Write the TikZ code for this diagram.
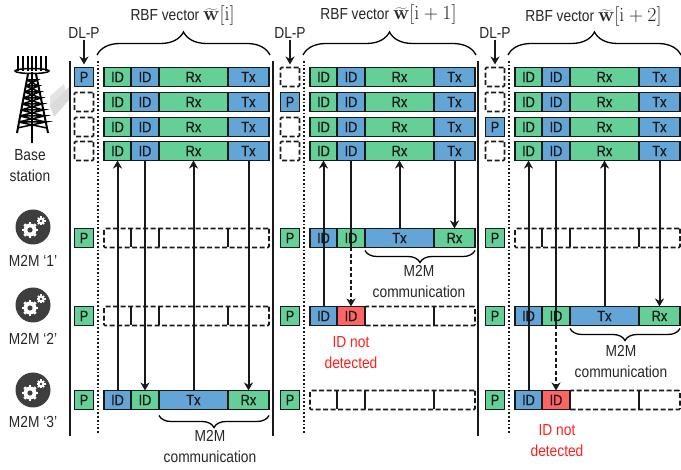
\documentclass[tikz,border=0pt]{standalone}
\usepackage[no-math]{fontspec}
\setmainfont[FakeStretch=0.86]{Liberation Sans}
\newfontfamily\cellfont[FakeStretch=0.85,FakeBold=0.5]{Liberation Sans}
\usepackage{tikz}
\usetikzlibrary{arrows.meta,calc,decorations.pathreplacing}
\definecolor{slotBlue}{HTML}{64A5D8}
\definecolor{slotGreen}{HTML}{64CF96}
\definecolor{slotRed}{HTML}{FF6464}
\definecolor{iconGrey}{HTML}{3E3E3E}
\definecolor{missRed}{HTML}{FF2020}
\tikzset{
  diagram text/.style={font=\fontsize{16}{21}\selectfont,text=black!85,align=center,inner sep=1pt},
  slot cell/.style={draw=black!90,line width=1.8pt,anchor=west,minimum height=19pt,inner sep=0pt,outer sep=0pt,
    font=\cellfont\fontsize{15}{15}\selectfont,text=black!90},
  blank slot/.style={draw=black!90,line width=1.6pt,dash pattern=on 5pt off 2.5pt,rounded corners=1pt,anchor=west,
    minimum height=19pt,inner sep=0pt,outer sep=0pt},
  slot divider/.style={line width=1.7pt,draw=black!90},
  pilot box/.style={slot cell,anchor=center,minimum width=19pt,minimum height=19pt},
  pilot blank/.style={blank slot,anchor=center,minimum width=19pt},
  slot link/.style={-{Stealth[length=8pt,width=9pt,inset=2.5pt]},line width=2pt,draw=black!90},
  slot plain/.style={line width=2pt,draw=black!90},
  slot dashed/.style={slot link,dash pattern=on 4pt off 2.5pt},
  big brace/.style={line width=1.3pt,decorate,decoration={brace,amplitude=23pt,aspect=0.5}},
  small brace/.style={line width=1.3pt,decorate,decoration={brace,mirror,amplitude=12pt}},
  frame line/.style={line width=1.8pt,draw=black!90},
  frame dots/.style={line width=1.7pt,dotted,draw=black!90},
  gear icon/.style={circle,fill=iconGrey,minimum size=35pt,inner sep=0pt},
  pics/cog/.style={code={
    \foreach \ang in {0,45,...,315}{\draw[white,line width=#1*0.42pt] (0,0) -- (\ang:#1*1.25pt);}
    \fill[white] (0,0) circle (#1*1pt);
    \fill[iconGrey] (0,0) circle (#1*0.4pt);
  }}
}
\newcommand{\slotcell}[6]{\node[slot cell,fill=#5,minimum width=#3pt] (#1) at (#2,#4) {#6};}
\newcommand{\stationrow}[3]{
  \slotcell{#1a}{#2}{27}{#3}{slotGreen}{ID}
  \slotcell{#1b}{#2+27}{28}{#3}{slotBlue}{ID}
  \slotcell{#1c}{#2+55}{69}{#3}{slotGreen}{Rx}
  \slotcell{#1d}{#2+124}{41}{#3}{slotBlue}{Tx}
}
\newcommand{\txrow}[3]{
  \slotcell{#1a}{#2}{27}{#3}{slotBlue}{ID}
  \slotcell{#1b}{#2+27}{28}{#3}{slotGreen}{ID}
  \slotcell{#1c}{#2+55}{69}{#3}{slotBlue}{Tx}
  \slotcell{#1d}{#2+124}{41}{#3}{slotGreen}{Rx}
}
\newcommand{\missrow}[3]{
  \node[blank slot,minimum width=110pt] (#1c) at (#2+55,#3) {};
  \draw[slot divider] ([xshift=69pt]#1c.north west) -- ([xshift=69pt]#1c.south west);
  \slotcell{#1a}{#2}{27}{#3}{slotBlue}{ID}
  \slotcell{#1b}{#2+27}{28}{#3}{slotRed}{ID}
}
\newcommand{\blankrow}[3]{
  \node[blank slot,minimum width=165pt] (#1) at (#2,#3) {};
  \foreach \gap in {27,55,124}{
    \draw[slot divider] ([xshift=\gap pt]#1.north west) -- ([xshift=\gap pt]#1.south west);
  }
}
\begin{document}
\begin{tikzpicture}[x=1pt,y=-1pt]
\useasboundingbox (0,0) rectangle (681,470);
\fill[gray!40,opacity=.7] (50,106) -- (70,86) -- (70,99) -- (54,117) -- cycle;
\fill[gray!30,opacity=.7] (50,96) -- (64,84) -- (66,92) -- (50,106) -- cycle;
\foreach \xp in {18,23,28,32,36,41,46}{\draw[line width=1.3pt] (\xp,56) -- (\xp,71);}
\draw[line width=1.5pt] (32,71) ellipse (17pt and 2.5pt);
\draw[line width=1.6pt] (32,72) -- (32,143);
\draw[line width=2pt] (28,74) -- (17,133) (36,74) -- (48,133);
\foreach \yl in {80,86,...,122}{
  \pgfmathsetmacro{\wa}{4+(\yl-74)*0.2}
  \pgfmathsetmacro{\wb}{4+(\yl+6-74)*0.2}
  \draw[line width=1.5pt] (32-\wa,\yl) -- (32+\wa,\yl) -- (32-\wb,\yl+6) (32-\wa,\yl) -- (32+\wb,\yl+6);
}
\node[diagram text] (base) at (30,166) {Base\\station};

\foreach \rowname/\iy/\ly in {1/227/261,2/305/339,3/390/422}{
  \node[gear icon] (m\rowname) at (33,\iy) {};
  \pic at ([shift={(-3pt,-3pt)}]m\rowname.center) {cog=6.5};
  \pic at ([shift={(8pt,6pt)}]m\rowname.center) {cog=3.6};
  \node[diagram text] (m\rowname label) at (33,\ly) {M2M ‘\rowname’};
}

\foreach \linex in {70,273,478}{\draw[frame line] (\linex,61) -- (\linex,436);}
\foreach \col/\off/\pslot/\ty/\idx in {a/0/1/16/{\mathrm{i}},b/206/2/15/{\mathrm{i}+1},c/411/3/17/{\mathrm{i}+2}}{
  \draw[frame dots] (\off+98,61) -- (\off+98,434);
  \node[diagram text] (\col-title) at (\off+182.5,\ty) {RBF vector \scalebox{1.15}{$\widetilde{\mathbf{w}}[\idx]$}};
  \draw[big brace] (\off+97,55) -- (\off+270,55);
  \node[diagram text] (\col-dl) at (\off+84,33) {DL-P};
  \foreach \row/\ry in {1/77,2/102,3/127,4/151}{
    \ifnum\row=\pslot
      \node[pilot box,fill=slotBlue] (\col-p\row) at (\off+84,\ry) {P};
    \else
      \node[pilot blank] (\col-p\row) at (\off+84,\ry) {};
    \fi
    \stationrow{\col-b\row}{\off+104}{\ry}
  }
  \draw[slot link,shorten >=3pt] (\col-dl.south) -- (\col-p1.north);
  \foreach \row/\ry in {1/238,2/316,3/400}{
    \node[pilot box,fill=slotGreen] (\col-q\row) at (\off+84,\ry) {P};
  }
}

\blankrow{a-m1}{104}{238}
\blankrow{a-m2}{104}{316}
\txrow{a-m3}{104}{400}
\txrow{b-m1}{310}{238}
\missrow{b-m2}{310}{316}
\blankrow{b-m3}{310}{400}
\blankrow{c-m1}{515}{238}
\txrow{c-m2}{515}{316}
\missrow{c-m3}{515}{400}

\draw[slot link] (a-m3a.north) -- (a-b4a.south);
\draw[slot link] (a-b4b.south) -- (a-m3b.north);
\draw[slot link] (a-m3c.north) -- (a-b4c.south);
\draw[slot link] (a-b4d.south) -- (a-m3d.north);
\draw[small brace] ([yshift=-6pt]a-m3c.south west) -- ([yshift=-6pt]a-m3d.south east);
\node[diagram text] (a-comm) at (210,446) {M2M\\communication};

\draw[slot link] (b-m2a.north) -- (b-b4a.south);
\draw[slot plain] (b-b4b.south) -- (b-m1b.south);
\draw[slot dashed] (b-m1b.south) -- (b-m2b.north);
\draw[slot link] (b-m1c.north) -- (b-b4c.south);
\draw[slot link] (b-b4d.south) -- (b-m1d.north);
\draw[small brace] ([yshift=-3pt]b-m1c.south west) -- ([yshift=-3pt]b-m1d.south east);
\node[diagram text] (b-comm) at (419,281) {M2M\\communication};
\node[diagram text,text=missRed] (b-miss) at (351,353) {ID not\\detected};

\draw[slot link] (c-m3a.north) -- (c-b4a.south);
\draw[slot plain] (c-b4b.south) -- (c-m2b.south);
\draw[slot dashed] (c-m2b.south) -- (c-m3b.north);
\draw[slot link] (c-m2c.north) -- (c-b4c.south);
\draw[slot link] (c-b4d.south) -- (c-m2d.north);
\draw[small brace] ([yshift=-3pt]c-m2c.south west) -- ([yshift=-3pt]c-m2d.south east);
\node[diagram text] (c-comm) at (621,361) {M2M\\communication};
\node[diagram text,text=missRed] (c-miss) at (557,441) {ID not\\detected};
\end{tikzpicture}
\end{document}
